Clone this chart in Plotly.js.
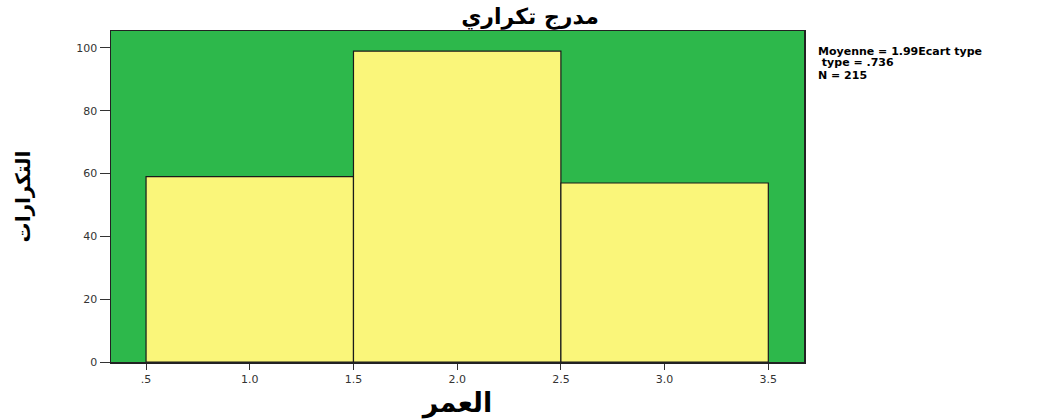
<!DOCTYPE html>
<html>
<head>
<meta charset="utf-8">
<script src="https://cdn.plot.ly/plotly-3.0.1.min.js"></script>
<style>html,body{margin:0;padding:0;background:#fff;}#chart{width:1060px;height:419px;}</style>
</head>
<body>
<div id="chart"></div>
<script>
const binCenters = [1.0, 2.0, 3.0];
const frequencies = [59, 99, 57];
const binWidth = 1.0;
const xTickVals = [0.5, 1.0, 1.5, 2.0, 2.5, 3.0, 3.5];
const xTickText = ['.5', '1.0', '1.5', '2.0', '2.5', '3.0', '3.5'];
const yTickVals = [0, 20, 40, 60, 80, 100];
const statsLines = ['Moyenne = 1.99Ecart type', ' type = .736', 'N = 215'];
const chartTitle = 'مدرج تكراري';
const xTitle = 'العمر';
const yTitle = 'التكرارات';

const trace = {
  type: 'bar',
  x: binCenters,
  y: frequencies,
  width: binCenters.map(() => binWidth),
  marker: {color: '#FAF67A', line: {color: '#1a1a1a', width: 1.2}},
  hoverinfo: 'x+y'
};

const layout = {
  width: 1060, height: 419,
  margin: {l: 111, r: 256, t: 31, b: 57},
  paper_bgcolor: '#ffffff',
  plot_bgcolor: '#2DB84B',
  showlegend: false,
  bargap: 0,
  font: {family: 'DejaVu Sans, sans-serif', color: '#000'},
  title: {text: '<b>' + chartTitle + '</b>', x: 0.5, xref: 'container', xanchor: 'center',
          y: 0.962, yref: 'container', yanchor: 'middle',
          font: {size: 22, family: 'DejaVu Sans, sans-serif', color: '#000'}},
  xaxis: {
    range: [0.331, 3.672],
    tickvals: xTickVals, ticktext: xTickText,
    ticks: 'outside', ticklen: 6, tickcolor: '#333', tickwidth: 1,
    tickfont: {size: 11, color: '#333', family: 'DejaVu Sans, sans-serif'},
    showgrid: false, zeroline: false,
    showline: true, linecolor: '#222', linewidth: 1.5, mirror: true,
    title: {text: '<b>' + xTitle + '</b>', standoff: 10, font: {size: 27, color: '#000'}}
  },
  yaxis: {
    range: [0, 105.4],
    tickvals: yTickVals,
    ticks: 'outside', ticklen: 10, tickcolor: '#333', tickwidth: 1,
    tickfont: {size: 11, color: '#333', family: 'DejaVu Sans, sans-serif'},
    showgrid: false, zeroline: false,
    showline: true, linecolor: '#222', linewidth: 1.5, mirror: true,
    title: {text: '<b>' + yTitle + '</b>', standoff: 40, font: {size: 20, color: '#000'}}
  },
  annotations: statsLines.map((t, i) => ({
    text: '<b>' + t + '</b>', xref: 'paper', yref: 'paper',
    x: 1.017, xanchor: 'left', y: 1 - (51 - 31 + i * 12) / 331, yanchor: 'middle',
    showarrow: false, font: {size: 11, color: '#000', family: 'DejaVu Sans, sans-serif'}
  }))
};

Plotly.newPlot('chart', [trace], layout, {displayModeBar: false, staticPlot: true});
</script>
</body>
</html>
